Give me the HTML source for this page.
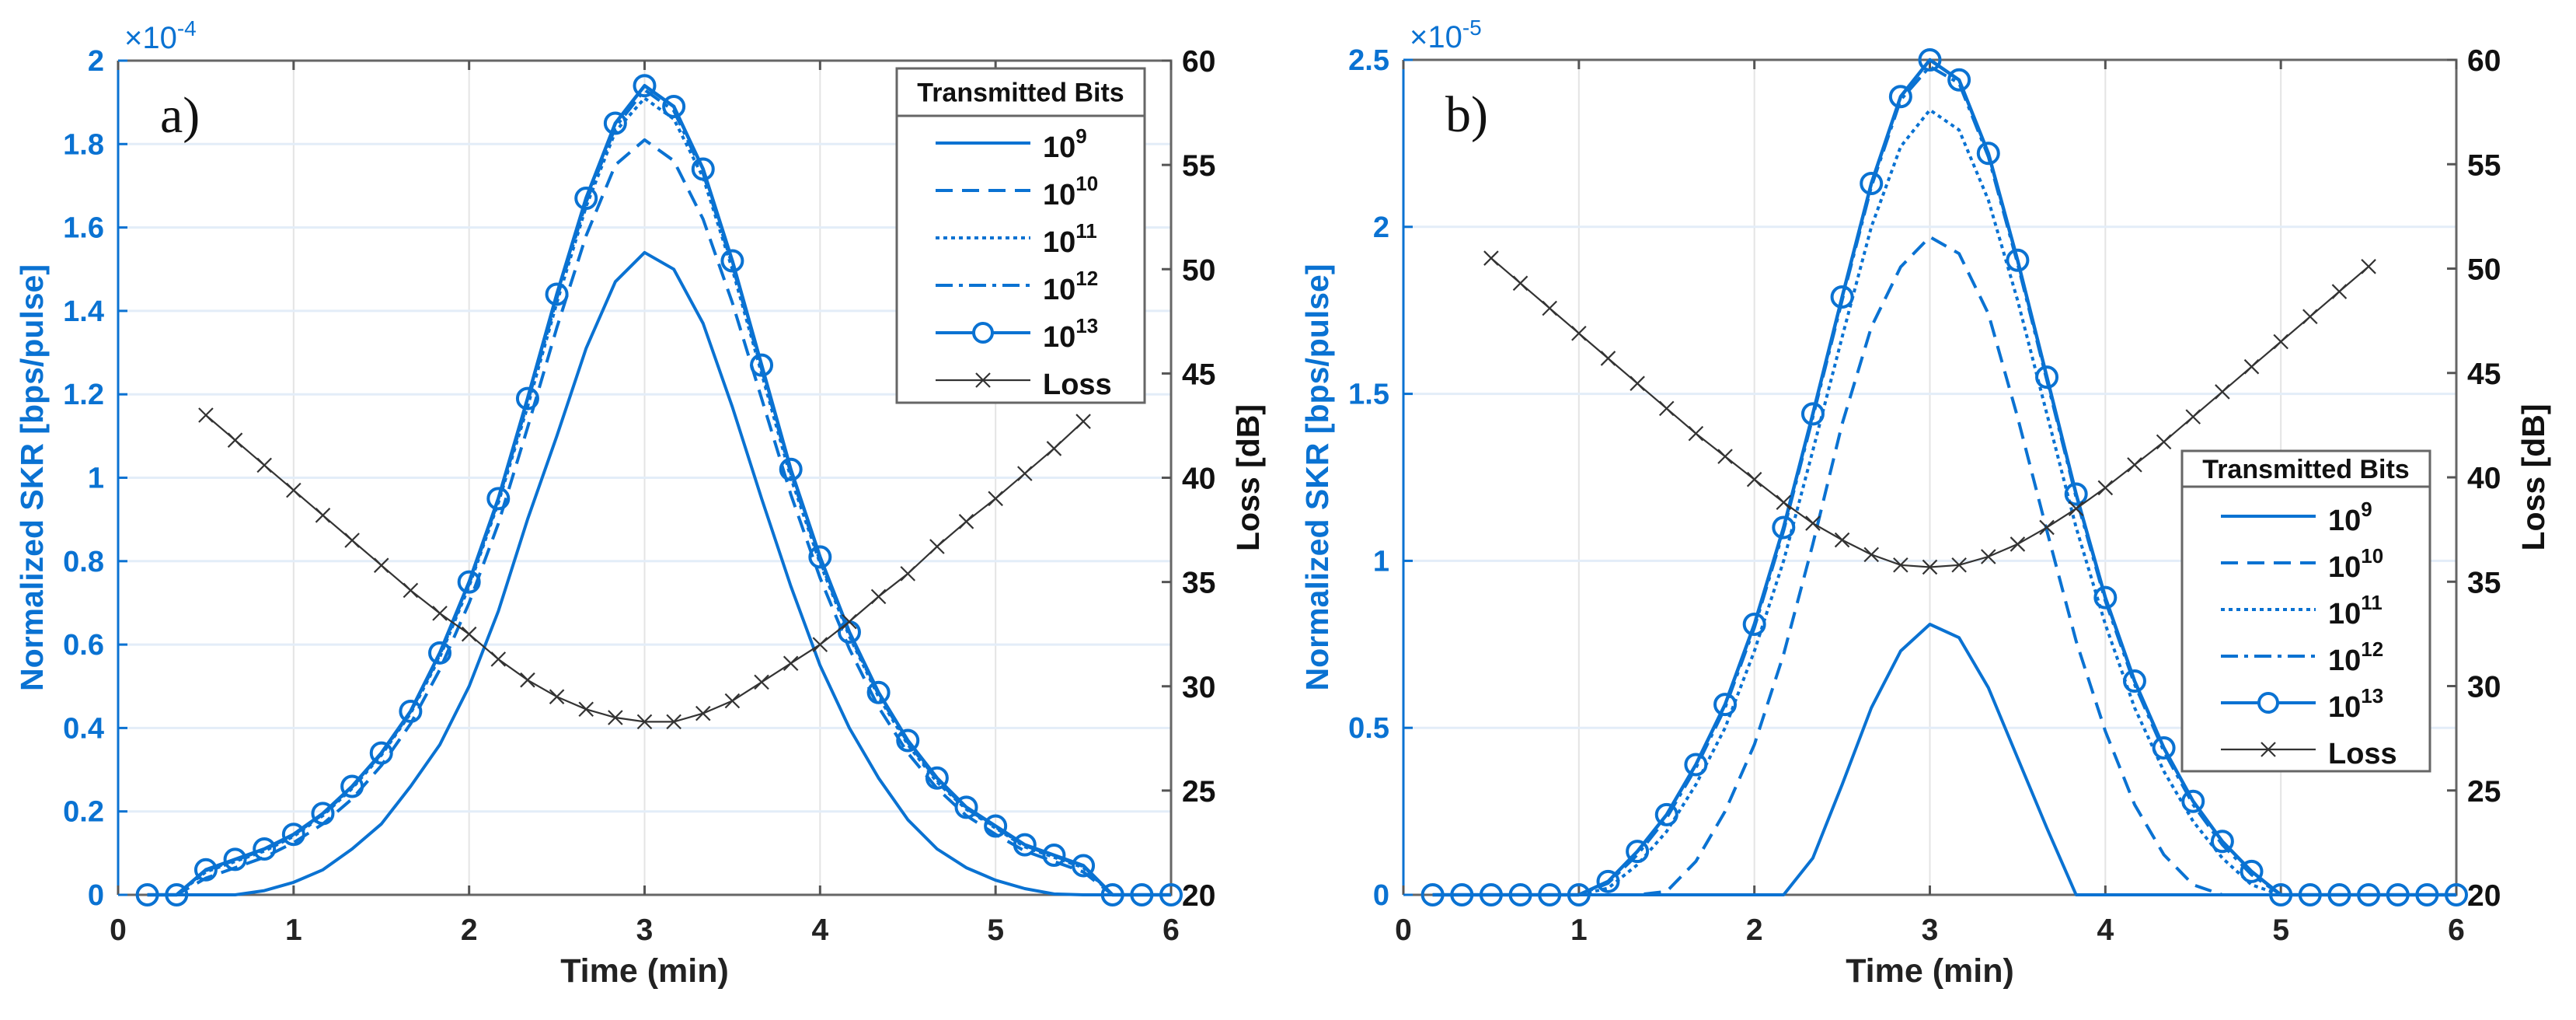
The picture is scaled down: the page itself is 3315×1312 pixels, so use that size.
<!DOCTYPE html>
<html><head><meta charset="utf-8">
<style>
html,body{margin:0;padding:0;background:#fff;}
svg{display:block;font-family:"Liberation Sans",Arial,sans-serif;}
</style></head>
<body>
<svg id="fig" width="3315" height="1312" viewBox="0 0 3315 1312" xmlns="http://www.w3.org/2000/svg"></svg>
<script>
// ---- shared data ----
const timeTicks = [0,1,2,3,4,5,6];
const lossTicks = [20,25,30,35,40,45,50,55,60];
const skrTimes = [1/6,2/6,3/6,4/6,5/6,1,7/6,8/6,9/6,10/6,11/6,2,13/6,14/6,15/6,16/6,17/6,3,19/6,20/6,21/6,22/6,23/6,4,25/6,26/6,27/6,28/6,29/6,5,31/6,32/6,33/6,34/6,35/6,6];
const lossTimes = [0.5,4/6,5/6,1,7/6,8/6,9/6,10/6,11/6,2,13/6,14/6,15/6,16/6,17/6,3,19/6,20/6,21/6,22/6,23/6,4,25/6,26/6,27/6,28/6,29/6,5,31/6,32/6,5.5];
const seriesLabels = ["9","10","11","12","13"];

// ---- panel a data (x1e-4) ----
const aTicks = [0,0.2,0.4,0.6,0.8,1,1.2,1.4,1.6,1.8,2];
const aS9  = [0,0,0,0,0.01,0.03,0.06,0.11,0.17,0.26,0.36,0.5,0.68,0.9,1.1,1.31,1.47,1.54,1.5,1.37,1.17,0.95,0.74,0.55,0.4,0.28,0.18,0.11,0.065,0.035,0.015,0.002,0,0,0,0];
const aS10 = [0,0,0.04,0.065,0.09,0.125,0.17,0.23,0.31,0.41,0.54,0.7,0.89,1.12,1.36,1.58,1.75,1.81,1.76,1.62,1.42,1.19,0.96,0.76,0.59,0.45,0.34,0.255,0.19,0.145,0.105,0.08,0.055,0,0,0];
const aS11 = [0,0,0.055,0.08,0.105,0.14,0.19,0.255,0.335,0.435,0.57,0.74,0.94,1.17,1.42,1.65,1.83,1.91,1.86,1.72,1.5,1.25,1.0,0.795,0.62,0.475,0.36,0.27,0.205,0.16,0.115,0.09,0.065,0,0,0];
const aS12 = [0,0,0.058,0.083,0.108,0.143,0.193,0.258,0.338,0.438,0.575,0.745,0.945,1.18,1.43,1.66,1.84,1.93,1.88,1.73,1.51,1.26,1.01,0.8,0.625,0.48,0.365,0.275,0.207,0.162,0.118,0.093,0.068,0,0,0];
const aS13 = [0,0,0.06,0.085,0.11,0.145,0.195,0.26,0.34,0.44,0.58,0.75,0.95,1.19,1.44,1.67,1.85,1.94,1.89,1.74,1.52,1.27,1.02,0.81,0.63,0.485,0.37,0.28,0.21,0.165,0.12,0.095,0.07,0,0,0];
const aLoss = [43.0,41.8,40.6,39.4,38.2,37.0,35.8,34.6,33.5,32.5,31.3,30.3,29.5,28.9,28.5,28.3,28.3,28.7,29.3,30.2,31.1,32.0,33.1,34.3,35.4,36.7,37.9,39.0,40.2,41.4,42.7];

// ---- panel b data (x1e-5) ----
const bTicks = [0,0.5,1,1.5,2,2.5];
const bS9  = [0,0,0,0,0,0,0,0,0,0,0,0,0,0.11,0.33,0.56,0.73,0.81,0.77,0.62,0.41,0.2,0,0,0,0,0,0,0,0,0,0,0,0,0,0];
const bS10 = [0,0,0,0,0,0,0,0,0.01,0.1,0.25,0.45,0.72,1.05,1.41,1.7,1.88,1.97,1.92,1.74,1.43,1.09,0.76,0.49,0.27,0.12,0.03,0,0,0,0,0,0,0,0,0];
const bS11 = [0,0,0,0,0,0,0.02,0.09,0.19,0.33,0.5,0.73,1.0,1.33,1.67,2.0,2.24,2.35,2.29,2.08,1.78,1.44,1.1,0.81,0.56,0.37,0.22,0.11,0.03,0,0,0,0,0,0,0];
const bS12 = [0,0,0,0,0,0,0.035,0.12,0.23,0.38,0.56,0.8,1.09,1.43,1.78,2.12,2.38,2.48,2.43,2.21,1.89,1.54,1.19,0.88,0.63,0.43,0.27,0.15,0.06,0,0,0,0,0,0,0];
const bS13 = [0,0,0,0,0,0,0.04,0.13,0.24,0.39,0.57,0.81,1.1,1.44,1.79,2.13,2.39,2.5,2.44,2.22,1.9,1.55,1.2,0.89,0.64,0.44,0.28,0.16,0.07,0,0,0,0,0,0,0];
const bLoss = [50.5,49.3,48.1,46.9,45.7,44.5,43.3,42.1,41.0,39.9,38.8,37.8,37.0,36.3,35.8,35.7,35.8,36.2,36.8,37.6,38.5,39.5,40.6,41.7,42.9,44.1,45.3,46.5,47.7,48.9,50.1];

const NS = "http://www.w3.org/2000/svg";
const BLUE = "#0a72d2";
const svg = document.getElementById("fig");
function mk(tag, attrs, parent){
  const e = document.createElementNS(NS, tag);
  for (const k in attrs) e.setAttribute(k, attrs[k]);
  (parent||svg).appendChild(e);
  return e;
}
const dashes = ["", "22 12", "5 5", "22 8 5 8", ""];

function panel(p){
  const g = mk("g", {});
  
  
  const L=p.left,R=p.right,T=p.top,B=p.bottom;
  const xs = t => L + (t-0)/(6-0)*(R-L);
  const ys = v => B - v/p.ymax*(B-T);
  const yl = d => B - (d-20)/40*(B-T);

  timeTicks.forEach(t=>{
    const l = mk("line",{x1:xs(t),x2:xs(t),y1:T,y2:B,stroke:"#e4e4e4","stroke-width":2},g);
    
    
  });
  p.ticks.forEach(v=>{
    const l = mk("line",{x1:L,x2:R,y1:ys(v),y2:ys(v),stroke:"#e3edf8","stroke-width":3},g);
    
    
  });
  const box = mk("path",{d:`M${L},${T}H${R}V${B}H${L}`,fill:"none",stroke:"#666","stroke-width":3},g);
  
  
  const la = mk("line",{x1:L,x2:L,y1:T,y2:B,stroke:BLUE,"stroke-width":3},g);
  
  

  timeTicks.forEach(t=>{
    mk("line",{x1:xs(t),x2:xs(t),y1:B,y2:B-12,stroke:"#555","stroke-width":3},g);
    mk("line",{x1:xs(t),x2:xs(t),y1:T,y2:T+12,stroke:"#555","stroke-width":3},g);
    const tx = mk("text",{x:xs(t),y:B+58,"text-anchor":"middle","font-size":39,"font-weight":"bold",fill:"#222"},g);
    tx.textContent = t;
    
    
  });
  p.ticks.forEach(v=>{
    mk("line",{x1:L,x2:L+12,y1:ys(v),y2:ys(v),stroke:BLUE,"stroke-width":3},g);
    const tx = mk("text",{x:L-18,y:ys(v)+13,"text-anchor":"end","font-size":38,"font-weight":"bold",fill:BLUE},g);
    tx.textContent = v;
    
    
  });
  lossTicks.forEach(d=>{
    mk("line",{x1:R,x2:R-12,y1:yl(d),y2:yl(d),stroke:"#555","stroke-width":3},g);
    const tx = mk("text",{x:R+14,y:yl(d)+14,"text-anchor":"start","font-size":39,"font-weight":"bold",fill:"#111"},g);
    tx.textContent = d;
    
    
  });
  const ex = mk("text",{x:L+8,y:T-16,"font-size":40,fill:BLUE},g);
  ex.innerHTML = `×10<tspan font-size="28" dy="-16">${p.exp}</tspan>`;
  
  
  const pl = mk("text",{x:L+54,y:T+92,"font-size":66,"font-family":"Liberation Serif, serif",fill:"#111"},g);
  pl.textContent = p.letter;
  
  
  const yt = mk("text",{x:0,y:0,"text-anchor":"middle","font-size":41,"font-weight":"bold",fill:BLUE,transform:`translate(${L-97},${(T+B)/2}) rotate(-90)`},g);
  yt.textContent = "Normalized SKR [bps/pulse]";
  
  
  const rt = mk("text",{x:0,y:0,"text-anchor":"middle","font-size":41,"font-weight":"bold",fill:"#111",transform:`translate(${R+113},${(T+B)/2}) rotate(-90)`},g);
  rt.textContent = "Loss [dB]";
  
  
  const xt = mk("text",{x:(L+R)/2,y:B+112,"text-anchor":"middle","font-size":43,"font-weight":"bold",fill:"#222"},g);
  xt.textContent = "Time (min)";
  
  

  p.series.forEach((s,i)=>{
    const d = skrTimes.map((t,k)=>(k?"L":"M")+xs(t).toFixed(1)+","+ys(s[k]).toFixed(1)).join("");
    const path = mk("path",{d:d,fill:"none",stroke:BLUE,"stroke-width":i==4?4.5:4,"stroke-dasharray":dashes[i],"stroke-linejoin":"round"},g);
    
    
    if(i==4){
      skrTimes.forEach((t,k)=>{
        const c = mk("circle",{cx:xs(t),cy:ys(s[k]),r:13,fill:"none",stroke:BLUE,"stroke-width":4},g);
        
        
      });
    }
  });
  const ld = lossTimes.map((t,k)=>(k?"L":"M")+xs(t).toFixed(1)+","+yl(p.loss[k]).toFixed(1)).join("");
  const lp = mk("path",{d:ld,fill:"none",stroke:"#333","stroke-width":2.2},g);
  
  
  lossTimes.forEach((t,k)=>{
    const x=xs(t), y=yl(p.loss[k]);
    const m = mk("path",{d:`M${x-9},${y-9}L${x+9},${y+9}M${x-9},${y+9}L${x+9},${y-9}`,stroke:"#333","stroke-width":2.2},g);
    
    
  });

  const lg = mk("g",{},g);
  
  
  const Lx=p.lg.x, Ly=p.lg.y, Lw=p.lg.w, Lh=p.lg.h, Td=p.lg.div;
  mk("rect",{x:Lx,y:Ly,width:Lw,height:Lh,fill:"#fff",stroke:"#666","stroke-width":3},lg);
  mk("line",{x1:Lx,x2:Lx+Lw,y1:Ly+Td,y2:Ly+Td,stroke:"#666","stroke-width":3},lg);
  const lt = mk("text",{x:Lx+Lw/2,y:Ly+Td/2+12,"text-anchor":"middle","font-size":34,"font-weight":"bold",fill:"#111"},lg);
  lt.textContent = "Transmitted Bits";
  
  
  const entries = seriesLabels.concat(["Loss"]);
  entries.forEach((lab,i)=>{
    const y = Ly + p.lg.first + i*p.lg.step;
    const x1 = Lx+50, x2 = Lx+172;
    if(i<5){
      mk("line",{x1:x1,x2:x2,y1:y,y2:y,stroke:BLUE,"stroke-width":4,"stroke-dasharray":dashes[i]},lg);
      if(i==4) mk("circle",{cx:(x1+x2)/2,cy:y,r:12,fill:"#fff",stroke:BLUE,"stroke-width":4},lg);
    } else {
      mk("line",{x1:x1,x2:x2,y1:y,y2:y,stroke:"#333","stroke-width":2.2},lg);
      const cx=(x1+x2)/2;
      mk("path",{d:`M${cx-9},${y-9}L${cx+9},${y+9}M${cx-9},${y+9}L${cx+9},${y-9}`,stroke:"#333","stroke-width":2.2},lg);
    }
    const tx = mk("text",{x:Lx+188,y:y+18,"font-size":38,"font-weight":"bold",fill:"#111"},lg);
    if(i<5) tx.innerHTML = `10<tspan font-size="26" dy="-18">${lab}</tspan>`;
    else tx.textContent = "Loss";
    
    
  });
}

panel({name:"panel-a",left:152,right:1507,top:78,bottom:1151,ymax:2,ticks:aTicks,exp:"-4",letter:"a)",
  series:[aS9,aS10,aS11,aS12,aS13],loss:aLoss,
  lg:{x:1154,y:88,w:319,h:430,div:61,first:96,step:61}});
panel({name:"panel-b",left:1806,right:3161,top:77,bottom:1151,ymax:2.5,ticks:bTicks,exp:"-5",letter:"b)",
  series:[bS9,bS10,bS11,bS12,bS13],loss:bLoss,
  lg:{x:2808,y:580,w:319,h:412,div:46,first:84,step:60}});
</script>
</body></html>
